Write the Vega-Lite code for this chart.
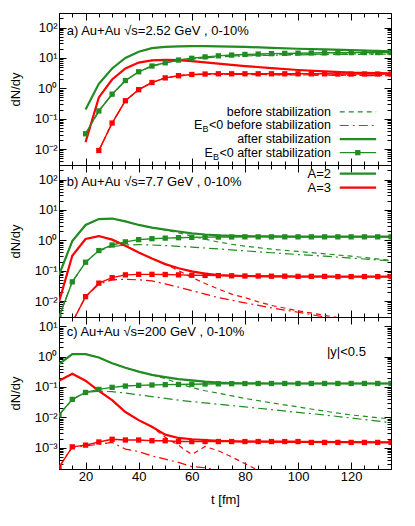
{
"$schema": "https://vega.github.io/schema/vega-lite/v6.json",
"padding": {"left": 8, "top": 6, "right": 0, "bottom": 0},
"spacing": 0,
"bounds": "flush",
"resolve": {"scale": {"x": "independent", "y": "independent"}},
"config": {
 "font": "Liberation Sans",
 "view": {"stroke": "black", "strokeWidth": 1},
 "axis": {"labelFont": "Liberation Sans", "titleFont": "Liberation Sans", "labelColor": "black", "titleColor": "black", "tickColor": "black", "labelFontSize": 13, "titleFontSize": 13, "titleFontWeight": "normal", "grid": false, "domain": false, "labelOverlap": false},
 "text": {"font": "Liberation Sans", "fontSize": 13}
},
"datasets": {
 "curves": [
  {"p":"a","A":2,"s":"af","t":20,"v":0.2},{"p":"a","A":2,"s":"af","t":25,"v":1.4},{"p":"a","A":2,"s":"af","t":30,"v":4.5},{"p":"a","A":2,"s":"af","t":35,"v":10},{"p":"a","A":2,"s":"af","t":40,"v":16},{"p":"a","A":2,"s":"af","t":45,"v":21},{"p":"a","A":2,"s":"af","t":50,"v":23},{"p":"a","A":2,"s":"af","t":55,"v":24},{"p":"a","A":2,"s":"af","t":60,"v":24.5},{"p":"a","A":2,"s":"af","t":65,"v":24.5},{"p":"a","A":2,"s":"af","t":70,"v":24},{"p":"a","A":2,"s":"af","t":80,"v":23},{"p":"a","A":2,"s":"af","t":90,"v":21.5},{"p":"a","A":2,"s":"af","t":100,"v":20},{"p":"a","A":2,"s":"af","t":110,"v":19},{"p":"a","A":2,"s":"af","t":120,"v":18},{"p":"a","A":2,"s":"af","t":135,"v":16.5},
  {"p":"a","A":3,"s":"af","t":20,"v":0.017},{"p":"a","A":3,"s":"af","t":25,"v":0.5},{"p":"a","A":3,"s":"af","t":30,"v":1.95},{"p":"a","A":3,"s":"af","t":35,"v":4.5},{"p":"a","A":3,"s":"af","t":40,"v":7},{"p":"a","A":3,"s":"af","t":45,"v":8.3},{"p":"a","A":3,"s":"af","t":50,"v":8.6},{"p":"a","A":3,"s":"af","t":55,"v":8.4},{"p":"a","A":3,"s":"af","t":60,"v":7.8},{"p":"a","A":3,"s":"af","t":70,"v":6.5},{"p":"a","A":3,"s":"af","t":80,"v":5.4},{"p":"a","A":3,"s":"af","t":90,"v":4.6},{"p":"a","A":3,"s":"af","t":100,"v":4},{"p":"a","A":3,"s":"af","t":110,"v":3.6},{"p":"a","A":3,"s":"af","t":120,"v":3.3},{"p":"a","A":3,"s":"af","t":135,"v":3.1},
  {"p":"a","A":2,"s":"bf","t":20,"v":0.032},{"p":"a","A":2,"s":"bf","t":25,"v":0.18},{"p":"a","A":2,"s":"bf","t":30,"v":0.64},{"p":"a","A":2,"s":"bf","t":35,"v":1.8},{"p":"a","A":2,"s":"bf","t":40,"v":3.5},{"p":"a","A":2,"s":"bf","t":45,"v":5.4},{"p":"a","A":2,"s":"bf","t":50,"v":6.9},{"p":"a","A":2,"s":"bf","t":55,"v":8.4},{"p":"a","A":2,"s":"bf","t":60,"v":9.4},{"p":"a","A":2,"s":"bf","t":70,"v":11},{"p":"a","A":2,"s":"bf","t":80,"v":12},{"p":"a","A":2,"s":"bf","t":90,"v":12.6},{"p":"a","A":2,"s":"bf","t":100,"v":13},{"p":"a","A":2,"s":"bf","t":110,"v":13.3},{"p":"a","A":2,"s":"bf","t":120,"v":13.5},{"p":"a","A":2,"s":"bf","t":135,"v":13.6},
  {"p":"a","A":2,"s":"ebbf","t":20,"v":0.032},{"p":"a","A":2,"s":"ebbf","t":25,"v":0.18},{"p":"a","A":2,"s":"ebbf","t":30,"v":0.64},{"p":"a","A":2,"s":"ebbf","t":35,"v":1.8},{"p":"a","A":2,"s":"ebbf","t":40,"v":3.5},{"p":"a","A":2,"s":"ebbf","t":45,"v":5.4},{"p":"a","A":2,"s":"ebbf","t":50,"v":6.9},{"p":"a","A":2,"s":"ebbf","t":55,"v":8.3},{"p":"a","A":2,"s":"ebbf","t":60,"v":9.2},{"p":"a","A":2,"s":"ebbf","t":70,"v":10.7},{"p":"a","A":2,"s":"ebbf","t":80,"v":11.6},{"p":"a","A":2,"s":"ebbf","t":90,"v":12.2},{"p":"a","A":2,"s":"ebbf","t":100,"v":12.6},{"p":"a","A":2,"s":"ebbf","t":110,"v":12.9},{"p":"a","A":2,"s":"ebbf","t":120,"v":13.1},{"p":"a","A":2,"s":"ebbf","t":135,"v":13.2},
  {"p":"a","A":3,"s":"bf","t":25,"v":0.009},{"p":"a","A":3,"s":"bf","t":30,"v":0.072},{"p":"a","A":3,"s":"bf","t":35,"v":0.39},{"p":"a","A":3,"s":"bf","t":40,"v":0.9},{"p":"a","A":3,"s":"bf","t":45,"v":1.55},{"p":"a","A":3,"s":"bf","t":50,"v":2.2},{"p":"a","A":3,"s":"bf","t":55,"v":2.6},{"p":"a","A":3,"s":"bf","t":60,"v":2.85},{"p":"a","A":3,"s":"bf","t":70,"v":2.95},{"p":"a","A":3,"s":"bf","t":80,"v":2.9},{"p":"a","A":3,"s":"bf","t":90,"v":2.85},{"p":"a","A":3,"s":"bf","t":100,"v":2.8},{"p":"a","A":3,"s":"bf","t":110,"v":2.75},{"p":"a","A":3,"s":"bf","t":120,"v":2.7},{"p":"a","A":3,"s":"bf","t":135,"v":2.65},
  {"p":"a","A":3,"s":"ebbf","t":25,"v":0.009},{"p":"a","A":3,"s":"ebbf","t":30,"v":0.072},{"p":"a","A":3,"s":"ebbf","t":35,"v":0.39},{"p":"a","A":3,"s":"ebbf","t":40,"v":0.9},{"p":"a","A":3,"s":"ebbf","t":45,"v":1.55},{"p":"a","A":3,"s":"ebbf","t":50,"v":2.2},{"p":"a","A":3,"s":"ebbf","t":55,"v":2.55},{"p":"a","A":3,"s":"ebbf","t":60,"v":2.8},{"p":"a","A":3,"s":"ebbf","t":70,"v":2.9},{"p":"a","A":3,"s":"ebbf","t":80,"v":2.85},{"p":"a","A":3,"s":"ebbf","t":90,"v":2.8},{"p":"a","A":3,"s":"ebbf","t":100,"v":2.75},{"p":"a","A":3,"s":"ebbf","t":110,"v":2.7},{"p":"a","A":3,"s":"ebbf","t":120,"v":2.65},{"p":"a","A":3,"s":"ebbf","t":135,"v":2.6},
  {"p":"a","A":2,"s":"ebaf","t":20,"v":0.032},{"p":"a","A":2,"s":"ebaf","t":25,"v":0.18},{"p":"a","A":2,"s":"ebaf","t":30,"v":0.64},{"p":"a","A":2,"s":"ebaf","t":35,"v":1.8},{"p":"a","A":2,"s":"ebaf","t":40,"v":3.5},{"p":"a","A":2,"s":"ebaf","t":45,"v":5.4},{"p":"a","A":2,"s":"ebaf","t":50,"v":6.9},{"p":"a","A":2,"s":"ebaf","t":55,"v":8.5},{"p":"a","A":2,"s":"ebaf","t":60,"v":9.7},{"p":"a","A":2,"s":"ebaf","t":65,"v":10.8},{"p":"a","A":2,"s":"ebaf","t":70,"v":11.7},{"p":"a","A":2,"s":"ebaf","t":75,"v":12.4},{"p":"a","A":2,"s":"ebaf","t":80,"v":13},{"p":"a","A":2,"s":"ebaf","t":85,"v":13.4},{"p":"a","A":2,"s":"ebaf","t":90,"v":13.8},{"p":"a","A":2,"s":"ebaf","t":95,"v":14.1},{"p":"a","A":2,"s":"ebaf","t":100,"v":14.3},{"p":"a","A":2,"s":"ebaf","t":105,"v":14.5},{"p":"a","A":2,"s":"ebaf","t":110,"v":14.7},{"p":"a","A":2,"s":"ebaf","t":115,"v":14.8},{"p":"a","A":2,"s":"ebaf","t":120,"v":14.9},{"p":"a","A":2,"s":"ebaf","t":125,"v":15},{"p":"a","A":2,"s":"ebaf","t":130,"v":15},{"p":"a","A":2,"s":"ebaf","t":135,"v":15},
  {"p":"a","A":3,"s":"ebaf","t":25,"v":0.009},{"p":"a","A":3,"s":"ebaf","t":30,"v":0.072},{"p":"a","A":3,"s":"ebaf","t":35,"v":0.39},{"p":"a","A":3,"s":"ebaf","t":40,"v":0.9},{"p":"a","A":3,"s":"ebaf","t":45,"v":1.55},{"p":"a","A":3,"s":"ebaf","t":50,"v":2.2},{"p":"a","A":3,"s":"ebaf","t":55,"v":2.6},{"p":"a","A":3,"s":"ebaf","t":60,"v":2.85},{"p":"a","A":3,"s":"ebaf","t":65,"v":2.95},{"p":"a","A":3,"s":"ebaf","t":70,"v":3},{"p":"a","A":3,"s":"ebaf","t":75,"v":3},{"p":"a","A":3,"s":"ebaf","t":80,"v":3},{"p":"a","A":3,"s":"ebaf","t":85,"v":3},{"p":"a","A":3,"s":"ebaf","t":90,"v":3},{"p":"a","A":3,"s":"ebaf","t":95,"v":3},{"p":"a","A":3,"s":"ebaf","t":100,"v":3},{"p":"a","A":3,"s":"ebaf","t":105,"v":3},{"p":"a","A":3,"s":"ebaf","t":110,"v":3},{"p":"a","A":3,"s":"ebaf","t":115,"v":2.95},{"p":"a","A":3,"s":"ebaf","t":120,"v":2.95},{"p":"a","A":3,"s":"ebaf","t":125,"v":2.95},{"p":"a","A":3,"s":"ebaf","t":130,"v":2.95},{"p":"a","A":3,"s":"ebaf","t":135,"v":2.95},

  {"p":"b","A":2,"s":"af","t":10,"v":0.072},{"p":"b","A":2,"s":"af","t":15,"v":0.95},{"p":"b","A":2,"s":"af","t":20,"v":3.2},{"p":"b","A":2,"s":"af","t":25,"v":5},{"p":"b","A":2,"s":"af","t":30,"v":5.2},{"p":"b","A":2,"s":"af","t":35,"v":4.2},{"p":"b","A":2,"s":"af","t":40,"v":3.2},{"p":"b","A":2,"s":"af","t":45,"v":2.6},{"p":"b","A":2,"s":"af","t":50,"v":2.25},{"p":"b","A":2,"s":"af","t":55,"v":1.95},{"p":"b","A":2,"s":"af","t":60,"v":1.7},{"p":"b","A":2,"s":"af","t":65,"v":1.55},{"p":"b","A":2,"s":"af","t":70,"v":1.45},{"p":"b","A":2,"s":"af","t":75,"v":1.4},{"p":"b","A":2,"s":"af","t":80,"v":1.37},{"p":"b","A":2,"s":"af","t":90,"v":1.34},{"p":"b","A":2,"s":"af","t":100,"v":1.33},{"p":"b","A":2,"s":"af","t":120,"v":1.32},{"p":"b","A":2,"s":"af","t":135,"v":1.32},
  {"p":"b","A":2,"s":"bf","t":10,"v":0.072},{"p":"b","A":2,"s":"bf","t":15,"v":0.95},{"p":"b","A":2,"s":"bf","t":20,"v":3.2},{"p":"b","A":2,"s":"bf","t":25,"v":5},{"p":"b","A":2,"s":"bf","t":30,"v":5.2},{"p":"b","A":2,"s":"bf","t":35,"v":4.2},{"p":"b","A":2,"s":"bf","t":40,"v":3.2},{"p":"b","A":2,"s":"bf","t":45,"v":2.6},{"p":"b","A":2,"s":"bf","t":50,"v":2.2},{"p":"b","A":2,"s":"bf","t":55,"v":1.75},{"p":"b","A":2,"s":"bf","t":60,"v":1.38},{"p":"b","A":2,"s":"bf","t":65,"v":1.08},{"p":"b","A":2,"s":"bf","t":70,"v":0.88},{"p":"b","A":2,"s":"bf","t":75,"v":0.74},{"p":"b","A":2,"s":"bf","t":80,"v":0.64},{"p":"b","A":2,"s":"bf","t":90,"v":0.51},{"p":"b","A":2,"s":"bf","t":100,"v":0.43},{"p":"b","A":2,"s":"bf","t":110,"v":0.36},{"p":"b","A":2,"s":"bf","t":120,"v":0.3},{"p":"b","A":2,"s":"bf","t":135,"v":0.22},
  {"p":"b","A":2,"s":"ebbf","t":10,"v":0.003},{"p":"b","A":2,"s":"ebbf","t":15,"v":0.043},{"p":"b","A":2,"s":"ebbf","t":20,"v":0.19},{"p":"b","A":2,"s":"ebbf","t":25,"v":0.46},{"p":"b","A":2,"s":"ebbf","t":30,"v":0.62},{"p":"b","A":2,"s":"ebbf","t":35,"v":0.7},{"p":"b","A":2,"s":"ebbf","t":40,"v":0.72},{"p":"b","A":2,"s":"ebbf","t":45,"v":0.7},{"p":"b","A":2,"s":"ebbf","t":50,"v":0.67},{"p":"b","A":2,"s":"ebbf","t":55,"v":0.63},{"p":"b","A":2,"s":"ebbf","t":60,"v":0.6},{"p":"b","A":2,"s":"ebbf","t":70,"v":0.52},{"p":"b","A":2,"s":"ebbf","t":80,"v":0.45},{"p":"b","A":2,"s":"ebbf","t":90,"v":0.39},{"p":"b","A":2,"s":"ebbf","t":100,"v":0.34},{"p":"b","A":2,"s":"ebbf","t":110,"v":0.3},{"p":"b","A":2,"s":"ebbf","t":120,"v":0.26},{"p":"b","A":2,"s":"ebbf","t":135,"v":0.21},
  {"p":"b","A":2,"s":"ebaf","t":10,"v":0.003},{"p":"b","A":2,"s":"ebaf","t":15,"v":0.043},{"p":"b","A":2,"s":"ebaf","t":20,"v":0.19},{"p":"b","A":2,"s":"ebaf","t":25,"v":0.46},{"p":"b","A":2,"s":"ebaf","t":30,"v":0.7},{"p":"b","A":2,"s":"ebaf","t":35,"v":0.89},{"p":"b","A":2,"s":"ebaf","t":40,"v":1.05},{"p":"b","A":2,"s":"ebaf","t":45,"v":1.13},{"p":"b","A":2,"s":"ebaf","t":50,"v":1.18},{"p":"b","A":2,"s":"ebaf","t":55,"v":1.22},{"p":"b","A":2,"s":"ebaf","t":60,"v":1.25},{"p":"b","A":2,"s":"ebaf","t":65,"v":1.27},{"p":"b","A":2,"s":"ebaf","t":70,"v":1.28},{"p":"b","A":2,"s":"ebaf","t":75,"v":1.29},{"p":"b","A":2,"s":"ebaf","t":80,"v":1.3},{"p":"b","A":2,"s":"ebaf","t":85,"v":1.3},{"p":"b","A":2,"s":"ebaf","t":90,"v":1.3},{"p":"b","A":2,"s":"ebaf","t":95,"v":1.3},{"p":"b","A":2,"s":"ebaf","t":100,"v":1.3},{"p":"b","A":2,"s":"ebaf","t":105,"v":1.3},{"p":"b","A":2,"s":"ebaf","t":110,"v":1.3},{"p":"b","A":2,"s":"ebaf","t":115,"v":1.3},{"p":"b","A":2,"s":"ebaf","t":120,"v":1.3},{"p":"b","A":2,"s":"ebaf","t":125,"v":1.3},{"p":"b","A":2,"s":"ebaf","t":130,"v":1.3},{"p":"b","A":2,"s":"ebaf","t":135,"v":1.3},
  {"p":"b","A":3,"s":"af","t":10,"v":0.0093},{"p":"b","A":3,"s":"af","t":15,"v":0.31},{"p":"b","A":3,"s":"af","t":20,"v":1.1},{"p":"b","A":3,"s":"af","t":25,"v":1.38},{"p":"b","A":3,"s":"af","t":30,"v":1.05},{"p":"b","A":3,"s":"af","t":35,"v":0.66},{"p":"b","A":3,"s":"af","t":40,"v":0.4},{"p":"b","A":3,"s":"af","t":45,"v":0.25},{"p":"b","A":3,"s":"af","t":50,"v":0.165},{"p":"b","A":3,"s":"af","t":55,"v":0.12},{"p":"b","A":3,"s":"af","t":60,"v":0.095},{"p":"b","A":3,"s":"af","t":65,"v":0.08},{"p":"b","A":3,"s":"af","t":70,"v":0.072},{"p":"b","A":3,"s":"af","t":80,"v":0.067},{"p":"b","A":3,"s":"af","t":90,"v":0.065},{"p":"b","A":3,"s":"af","t":100,"v":0.064},{"p":"b","A":3,"s":"af","t":135,"v":0.064},
  {"p":"b","A":3,"s":"bf","t":10,"v":0.0093},{"p":"b","A":3,"s":"bf","t":15,"v":0.31},{"p":"b","A":3,"s":"bf","t":20,"v":1.1},{"p":"b","A":3,"s":"bf","t":25,"v":1.38},{"p":"b","A":3,"s":"bf","t":30,"v":1.05},{"p":"b","A":3,"s":"bf","t":35,"v":0.66},{"p":"b","A":3,"s":"bf","t":40,"v":0.4},{"p":"b","A":3,"s":"bf","t":45,"v":0.25},{"p":"b","A":3,"s":"bf","t":50,"v":0.165},{"p":"b","A":3,"s":"bf","t":55,"v":0.1},{"p":"b","A":3,"s":"bf","t":60,"v":0.06},{"p":"b","A":3,"s":"bf","t":65,"v":0.038},{"p":"b","A":3,"s":"bf","t":70,"v":0.025},{"p":"b","A":3,"s":"bf","t":75,"v":0.017},{"p":"b","A":3,"s":"bf","t":80,"v":0.013},{"p":"b","A":3,"s":"bf","t":85,"v":0.0095},{"p":"b","A":3,"s":"bf","t":90,"v":0.0072},{"p":"b","A":3,"s":"bf","t":100,"v":0.0048},{"p":"b","A":3,"s":"bf","t":110,"v":0.0034},{"p":"b","A":3,"s":"bf","t":120,"v":0.0024},{"p":"b","A":3,"s":"bf","t":135,"v":0.0015},
  {"p":"b","A":3,"s":"ebbf","t":15,"v":0.002},{"p":"b","A":3,"s":"ebbf","t":20,"v":0.014},{"p":"b","A":3,"s":"ebbf","t":25,"v":0.036},{"p":"b","A":3,"s":"ebbf","t":30,"v":0.05},{"p":"b","A":3,"s":"ebbf","t":35,"v":0.052},{"p":"b","A":3,"s":"ebbf","t":40,"v":0.05},{"p":"b","A":3,"s":"ebbf","t":45,"v":0.046},{"p":"b","A":3,"s":"ebbf","t":50,"v":0.037},{"p":"b","A":3,"s":"ebbf","t":55,"v":0.029},{"p":"b","A":3,"s":"ebbf","t":60,"v":0.022},{"p":"b","A":3,"s":"ebbf","t":65,"v":0.017},{"p":"b","A":3,"s":"ebbf","t":70,"v":0.013},{"p":"b","A":3,"s":"ebbf","t":80,"v":0.0088},{"p":"b","A":3,"s":"ebbf","t":90,"v":0.006},{"p":"b","A":3,"s":"ebbf","t":100,"v":0.0043},{"p":"b","A":3,"s":"ebbf","t":110,"v":0.003},{"p":"b","A":3,"s":"ebbf","t":120,"v":0.0022},{"p":"b","A":3,"s":"ebbf","t":135,"v":0.0014},
  {"p":"b","A":3,"s":"ebaf","t":15,"v":0.002},{"p":"b","A":3,"s":"ebaf","t":20,"v":0.014},{"p":"b","A":3,"s":"ebaf","t":25,"v":0.039},{"p":"b","A":3,"s":"ebaf","t":30,"v":0.059},{"p":"b","A":3,"s":"ebaf","t":35,"v":0.073},{"p":"b","A":3,"s":"ebaf","t":40,"v":0.076},{"p":"b","A":3,"s":"ebaf","t":45,"v":0.076},{"p":"b","A":3,"s":"ebaf","t":50,"v":0.075},{"p":"b","A":3,"s":"ebaf","t":55,"v":0.073},{"p":"b","A":3,"s":"ebaf","t":60,"v":0.071},{"p":"b","A":3,"s":"ebaf","t":65,"v":0.07},{"p":"b","A":3,"s":"ebaf","t":70,"v":0.069},{"p":"b","A":3,"s":"ebaf","t":75,"v":0.068},{"p":"b","A":3,"s":"ebaf","t":80,"v":0.067},{"p":"b","A":3,"s":"ebaf","t":85,"v":0.067},{"p":"b","A":3,"s":"ebaf","t":90,"v":0.066},{"p":"b","A":3,"s":"ebaf","t":95,"v":0.066},{"p":"b","A":3,"s":"ebaf","t":100,"v":0.065},{"p":"b","A":3,"s":"ebaf","t":105,"v":0.065},{"p":"b","A":3,"s":"ebaf","t":110,"v":0.065},{"p":"b","A":3,"s":"ebaf","t":115,"v":0.064},{"p":"b","A":3,"s":"ebaf","t":120,"v":0.064},{"p":"b","A":3,"s":"ebaf","t":125,"v":0.064},{"p":"b","A":3,"s":"ebaf","t":130,"v":0.064},{"p":"b","A":3,"s":"ebaf","t":135,"v":0.064},

  {"p":"c","A":2,"s":"af","t":10,"v":0.56},{"p":"c","A":2,"s":"af","t":15,"v":1.2},{"p":"c","A":2,"s":"af","t":20,"v":1.2},{"p":"c","A":2,"s":"af","t":25,"v":0.93},{"p":"c","A":2,"s":"af","t":30,"v":0.6},{"p":"c","A":2,"s":"af","t":35,"v":0.43},{"p":"c","A":2,"s":"af","t":40,"v":0.32},{"p":"c","A":2,"s":"af","t":45,"v":0.25},{"p":"c","A":2,"s":"af","t":50,"v":0.21},{"p":"c","A":2,"s":"af","t":55,"v":0.18},{"p":"c","A":2,"s":"af","t":60,"v":0.165},{"p":"c","A":2,"s":"af","t":65,"v":0.15},{"p":"c","A":2,"s":"af","t":70,"v":0.14},{"p":"c","A":2,"s":"af","t":75,"v":0.135},{"p":"c","A":2,"s":"af","t":80,"v":0.132},{"p":"c","A":2,"s":"af","t":90,"v":0.13},{"p":"c","A":2,"s":"af","t":135,"v":0.13},
  {"p":"c","A":2,"s":"bf","t":10,"v":0.56},{"p":"c","A":2,"s":"bf","t":15,"v":1.2},{"p":"c","A":2,"s":"bf","t":20,"v":1.2},{"p":"c","A":2,"s":"bf","t":25,"v":0.93},{"p":"c","A":2,"s":"bf","t":30,"v":0.6},{"p":"c","A":2,"s":"bf","t":35,"v":0.43},{"p":"c","A":2,"s":"bf","t":40,"v":0.32},{"p":"c","A":2,"s":"bf","t":45,"v":0.25},{"p":"c","A":2,"s":"bf","t":50,"v":0.19},{"p":"c","A":2,"s":"bf","t":55,"v":0.13},{"p":"c","A":2,"s":"bf","t":60,"v":0.095},{"p":"c","A":2,"s":"bf","t":65,"v":0.075},{"p":"c","A":2,"s":"bf","t":70,"v":0.062},{"p":"c","A":2,"s":"bf","t":80,"v":0.042},{"p":"c","A":2,"s":"bf","t":90,"v":0.03},{"p":"c","A":2,"s":"bf","t":100,"v":0.022},{"p":"c","A":2,"s":"bf","t":110,"v":0.016},{"p":"c","A":2,"s":"bf","t":120,"v":0.012},{"p":"c","A":2,"s":"bf","t":135,"v":0.0088},
  {"p":"c","A":2,"s":"ebbf","t":10,"v":0.012},{"p":"c","A":2,"s":"ebbf","t":15,"v":0.039},{"p":"c","A":2,"s":"ebbf","t":20,"v":0.066},{"p":"c","A":2,"s":"ebbf","t":25,"v":0.072},{"p":"c","A":2,"s":"ebbf","t":30,"v":0.07},{"p":"c","A":2,"s":"ebbf","t":35,"v":0.063},{"p":"c","A":2,"s":"ebbf","t":40,"v":0.055},{"p":"c","A":2,"s":"ebbf","t":45,"v":0.048},{"p":"c","A":2,"s":"ebbf","t":50,"v":0.042},{"p":"c","A":2,"s":"ebbf","t":55,"v":0.037},{"p":"c","A":2,"s":"ebbf","t":60,"v":0.033},{"p":"c","A":2,"s":"ebbf","t":70,"v":0.027},{"p":"c","A":2,"s":"ebbf","t":80,"v":0.022},{"p":"c","A":2,"s":"ebbf","t":90,"v":0.018},{"p":"c","A":2,"s":"ebbf","t":100,"v":0.0145},{"p":"c","A":2,"s":"ebbf","t":110,"v":0.012},{"p":"c","A":2,"s":"ebbf","t":120,"v":0.0095},{"p":"c","A":2,"s":"ebbf","t":135,"v":0.0067},
  {"p":"c","A":2,"s":"ebaf","t":10,"v":0.012},{"p":"c","A":2,"s":"ebaf","t":15,"v":0.039},{"p":"c","A":2,"s":"ebaf","t":20,"v":0.066},{"p":"c","A":2,"s":"ebaf","t":25,"v":0.083},{"p":"c","A":2,"s":"ebaf","t":30,"v":0.097},{"p":"c","A":2,"s":"ebaf","t":35,"v":0.107},{"p":"c","A":2,"s":"ebaf","t":40,"v":0.113},{"p":"c","A":2,"s":"ebaf","t":45,"v":0.116},{"p":"c","A":2,"s":"ebaf","t":50,"v":0.119},{"p":"c","A":2,"s":"ebaf","t":55,"v":0.121},{"p":"c","A":2,"s":"ebaf","t":60,"v":0.123},{"p":"c","A":2,"s":"ebaf","t":65,"v":0.125},{"p":"c","A":2,"s":"ebaf","t":70,"v":0.127},{"p":"c","A":2,"s":"ebaf","t":75,"v":0.128},{"p":"c","A":2,"s":"ebaf","t":80,"v":0.129},{"p":"c","A":2,"s":"ebaf","t":85,"v":0.13},{"p":"c","A":2,"s":"ebaf","t":90,"v":0.13},{"p":"c","A":2,"s":"ebaf","t":95,"v":0.13},{"p":"c","A":2,"s":"ebaf","t":100,"v":0.13},{"p":"c","A":2,"s":"ebaf","t":105,"v":0.13},{"p":"c","A":2,"s":"ebaf","t":110,"v":0.13},{"p":"c","A":2,"s":"ebaf","t":115,"v":0.13},{"p":"c","A":2,"s":"ebaf","t":120,"v":0.13},{"p":"c","A":2,"s":"ebaf","t":125,"v":0.13},{"p":"c","A":2,"s":"ebaf","t":130,"v":0.13},{"p":"c","A":2,"s":"ebaf","t":135,"v":0.13},
  {"p":"c","A":3,"s":"af","t":10,"v":0.16},{"p":"c","A":3,"s":"af","t":15,"v":0.27},{"p":"c","A":3,"s":"af","t":20,"v":0.16},{"p":"c","A":3,"s":"af","t":25,"v":0.074},{"p":"c","A":3,"s":"af","t":30,"v":0.037},{"p":"c","A":3,"s":"af","t":35,"v":0.015},{"p":"c","A":3,"s":"af","t":40,"v":0.0081},{"p":"c","A":3,"s":"af","t":45,"v":0.0049},{"p":"c","A":3,"s":"af","t":50,"v":0.0027},{"p":"c","A":3,"s":"af","t":55,"v":0.0021},{"p":"c","A":3,"s":"af","t":60,"v":0.0019},{"p":"c","A":3,"s":"af","t":65,"v":0.0018},{"p":"c","A":3,"s":"af","t":70,"v":0.0017},{"p":"c","A":3,"s":"af","t":80,"v":0.0016},{"p":"c","A":3,"s":"af","t":135,"v":0.0015},
  {"p":"c","A":3,"s":"bf","t":10,"v":0.16},{"p":"c","A":3,"s":"bf","t":15,"v":0.27},{"p":"c","A":3,"s":"bf","t":20,"v":0.16},{"p":"c","A":3,"s":"bf","t":25,"v":0.074},{"p":"c","A":3,"s":"bf","t":30,"v":0.037},{"p":"c","A":3,"s":"bf","t":35,"v":0.015},{"p":"c","A":3,"s":"bf","t":40,"v":0.0081},{"p":"c","A":3,"s":"bf","t":45,"v":0.0049},{"p":"c","A":3,"s":"bf","t":50,"v":0.0022},{"p":"c","A":3,"s":"bf","t":55,"v":0.0012},{"p":"c","A":3,"s":"bf","t":60,"v":0.0006},{"p":"c","A":3,"s":"bf","t":65,"v":0.0011},{"p":"c","A":3,"s":"bf","t":70,"v":0.0008},{"p":"c","A":3,"s":"bf","t":75,"v":0.0005},{"p":"c","A":3,"s":"bf","t":80,"v":0.0003},{"p":"c","A":3,"s":"bf","t":85,"v":0.00018},
  {"p":"c","A":3,"s":"ebbf","t":10,"v":0.00023},{"p":"c","A":3,"s":"ebbf","t":15,"v":0.00105},{"p":"c","A":3,"s":"ebbf","t":20,"v":0.00115},{"p":"c","A":3,"s":"ebbf","t":25,"v":0.0013},{"p":"c","A":3,"s":"ebbf","t":30,"v":0.0015},{"p":"c","A":3,"s":"ebbf","t":35,"v":0.0009},{"p":"c","A":3,"s":"ebbf","t":40,"v":0.00075},{"p":"c","A":3,"s":"ebbf","t":45,"v":0.00054},{"p":"c","A":3,"s":"ebbf","t":50,"v":0.00042},{"p":"c","A":3,"s":"ebbf","t":55,"v":0.00033},{"p":"c","A":3,"s":"ebbf","t":60,"v":0.00024},{"p":"c","A":3,"s":"ebbf","t":65,"v":0.00022},{"p":"c","A":3,"s":"ebbf","t":70,"v":0.00018},
  {"p":"c","A":3,"s":"ebaf","t":10,"v":0.00023},{"p":"c","A":3,"s":"ebaf","t":15,"v":0.00107},{"p":"c","A":3,"s":"ebaf","t":20,"v":0.00122},{"p":"c","A":3,"s":"ebaf","t":25,"v":0.00155},{"p":"c","A":3,"s":"ebaf","t":30,"v":0.0019},{"p":"c","A":3,"s":"ebaf","t":35,"v":0.0018},{"p":"c","A":3,"s":"ebaf","t":40,"v":0.0018},{"p":"c","A":3,"s":"ebaf","t":45,"v":0.0017},{"p":"c","A":3,"s":"ebaf","t":50,"v":0.0017},{"p":"c","A":3,"s":"ebaf","t":55,"v":0.0016},{"p":"c","A":3,"s":"ebaf","t":60,"v":0.0016},{"p":"c","A":3,"s":"ebaf","t":65,"v":0.0016},{"p":"c","A":3,"s":"ebaf","t":70,"v":0.0016},{"p":"c","A":3,"s":"ebaf","t":75,"v":0.0016},{"p":"c","A":3,"s":"ebaf","t":80,"v":0.0016},{"p":"c","A":3,"s":"ebaf","t":85,"v":0.0016},{"p":"c","A":3,"s":"ebaf","t":90,"v":0.0016},{"p":"c","A":3,"s":"ebaf","t":95,"v":0.0016},{"p":"c","A":3,"s":"ebaf","t":100,"v":0.0016},{"p":"c","A":3,"s":"ebaf","t":105,"v":0.0015},{"p":"c","A":3,"s":"ebaf","t":110,"v":0.0015},{"p":"c","A":3,"s":"ebaf","t":115,"v":0.0015},{"p":"c","A":3,"s":"ebaf","t":120,"v":0.0015},{"p":"c","A":3,"s":"ebaf","t":125,"v":0.0015},{"p":"c","A":3,"s":"ebaf","t":130,"v":0.0015},{"p":"c","A":3,"s":"ebaf","t":135,"v":0.0015}
 ],
 "keys": [
  {"p":"a","s":"bf","A":2,"t":115.7,"t2":129.4,"v":0.167},
  {"p":"a","s":"ebbf","A":2,"t":115.7,"t2":129.4,"v":0.0598},
  {"p":"a","s":"af","A":2,"t":115.7,"t2":129.4,"v":0.0214},
  {"p":"a","s":"ebaf","A":2,"t":115.7,"t2":129.4,"tm":122.5,"v":0.00766},
  {"p":"b","s":"af","A":2,"t":115.7,"t2":129.4,"v":155},
  {"p":"b","s":"af","A":3,"t":115.7,"t2":129.4,"v":54}
 ],
 "texts": [
  {"p":"a","k":"L","t":12.9,"v":74,"label":"a) Au+Au √s=2.52 GeV , 0-10%"},
  {"p":"a","k":"R","t":112.4,"v":0.167,"label":"before stabilization"},
  {"p":"a","k":"R","t":112.4,"v":0.0598,"label":"<0 before stabilization"},
  {"p":"a","k":"R","t":64.0,"v":0.0598,"label":"E"},
  {"p":"a","k":"S","t":66.3,"v":0.0598,"label":"B"},
  {"p":"a","k":"R","t":112.4,"v":0.0214,"label":"after stabilization"},
  {"p":"a","k":"R","t":112.4,"v":0.00766,"label":"<0 after stabilization"},
  {"p":"a","k":"R","t":67.9,"v":0.00766,"label":"E"},
  {"p":"a","k":"S","t":70.2,"v":0.00766,"label":"B"},
  {"p":"b","k":"L","t":12.9,"v":81,"label":"b) Au+Au √s=7.7 GeV , 0-10%"},
  {"p":"b","k":"R","t":112.4,"v":155,"label":"A=2"},
  {"p":"b","k":"R","t":112.4,"v":54,"label":"A=3"},
  {"p":"c","k":"L","t":12.9,"v":6.2,"label":"c) Au+Au √s=200 GeV , 0-10%"},
  {"p":"c","k":"L","t":110.9,"v":1.38,"label":"|y|<0.5"}
 ]
},
"vconcat": [
 {
  "width": 332, "height": 152,
  "resolve": {"scale": {"x": "independent", "y": "independent"}},
  "layer": [
   {
    "encoding": {
     "x": {"field": "t", "type": "quantitative", "scale": {"domain": [10, 135], "nice": false, "zero": false},
       "axis": {"orient": "bottom", "labels": false, "title": null, "values": [10,15,20,25,30,35,40,45,50,55,60,65,70,75,80,85,90,95,100,105,110,115,120,125,130,135],
         "tickSize": {"condition": {"test": "datum.value % 20 == 0", "value": -7}, "value": -4}}},
     "y": {"field": "v", "type": "quantitative", "scale": {"type": "log", "domain": [0.003, 300], "nice": false},
       "axis": {"title": "dN/dy", "titlePadding": 12, "labelPadding": 9,
         "values": [0.003,0.004,0.005,0.006,0.007,0.008,0.009,0.01,0.02,0.03,0.04,0.05,0.06,0.07,0.08,0.09,0.1,0.2,0.3,0.4,0.5,0.6,0.7,0.8,0.9,1,2,3,4,5,6,7,8,9,10,20,30,40,50,60,70,80,90,100,200,300],
         "labelExpr": "abs(log(datum.value)/LN10-round(log(datum.value)/LN10))<0.01 ? '10'+['⁻⁴','⁻³','⁻²','⁻¹','⁰','¹','²','³'][round(log(datum.value)/LN10)+4] : ''",
         "tickSize": {"condition": {"test": "abs(log(datum.value)/LN10-round(log(datum.value)/LN10))<0.01", "value": -7}, "value": -4}}},
     "color": {"field": "A", "type": "nominal", "scale": {"domain": [2, 3], "range": ["#228b22", "#ff0000"]}, "legend": null}
    },
    "layer": [
     {"data": {"name": "curves"}, "transform": [{"filter": "datum.p=='a' && datum.s=='bf'"}], "mark": {"type": "line", "strokeDash": [5, 4], "strokeWidth": 1.2, "clip": true}},
     {"data": {"name": "curves"}, "transform": [{"filter": "datum.p=='a' && datum.s=='ebbf'"}], "mark": {"type": "line", "strokeDash": [9, 4, 2, 4], "strokeWidth": 1.2, "clip": true}},
     {"data": {"name": "curves"}, "transform": [{"filter": "datum.p=='a' && datum.s=='af'"}], "mark": {"type": "line", "strokeWidth": 2.2, "clip": true}},
     {"data": {"name": "curves"}, "transform": [{"filter": "datum.p=='a' && datum.s=='ebaf'"}], "mark": {"type": "line", "strokeWidth": 1.4, "clip": true}},
     {"data": {"name": "curves"}, "transform": [{"filter": "datum.p=='a' && datum.s=='ebaf'"}], "mark": {"type": "point", "shape": "square", "filled": true, "opacity": 1, "size": 28, "clip": true}},
     {"data": {"name": "keys"}, "transform": [{"filter": "datum.p=='a' && datum.s=='bf'"}], "mark": {"type": "rule", "strokeDash": [5, 4], "strokeWidth": 1.2}, "encoding": {"x2": {"field": "t2"}}},
     {"data": {"name": "keys"}, "transform": [{"filter": "datum.p=='a' && datum.s=='ebbf'"}], "mark": {"type": "rule", "strokeDash": [9, 4, 2, 4], "strokeWidth": 1.2}, "encoding": {"x2": {"field": "t2"}}},
     {"data": {"name": "keys"}, "transform": [{"filter": "datum.p=='a' && datum.s=='af'"}], "mark": {"type": "rule", "strokeWidth": 2.2}, "encoding": {"x2": {"field": "t2"}}},
     {"data": {"name": "keys"}, "transform": [{"filter": "datum.p=='a' && datum.s=='ebaf'"}], "mark": {"type": "rule", "strokeWidth": 1.4}, "encoding": {"x2": {"field": "t2"}}},
     {"data": {"name": "keys"}, "transform": [{"filter": "datum.p=='a' && datum.s=='ebaf'"}], "mark": {"type": "point", "shape": "square", "filled": true, "opacity": 1, "size": 28}, "encoding": {"x": {"field": "tm", "type": "quantitative"}}},
     {"data": {"name": "texts"}, "transform": [{"filter": "datum.p=='a' && datum.k=='L'"}], "mark": {"type": "text", "align": "left", "baseline": "middle", "fontSize": 13}, "encoding": {"text": {"field": "label"}, "color": {"value": "black"}}},
     {"data": {"name": "texts"}, "transform": [{"filter": "datum.p=='a' && datum.k=='R'"}], "mark": {"type": "text", "align": "right", "baseline": "middle", "fontSize": 12.5}, "encoding": {"text": {"field": "label"}, "color": {"value": "black"}}},
     {"data": {"name": "texts"}, "transform": [{"filter": "datum.p=='a' && datum.k=='S'"}], "mark": {"type": "text", "align": "right", "baseline": "middle", "fontSize": 9, "dy": 4}, "encoding": {"text": {"field": "label"}, "color": {"value": "black"}}}
    ]
   },
   {
    "data": {"name": "curves"}, "transform": [{"filter": "datum.p=='a'"}],
    "mark": {"type": "point", "opacity": 0},
    "encoding": {
     "x": {"field": "t", "type": "quantitative", "scale": {"domain": [10, 135], "nice": false, "zero": false},
       "axis": {"orient": "top", "labels": false, "title": null, "values": [10,15,20,25,30,35,40,45,50,55,60,65,70,75,80,85,90,95,100,105,110,115,120,125,130,135],
         "tickSize": {"condition": {"test": "datum.value % 20 == 0", "value": -7}, "value": -4}}},
     "y": {"field": "v", "type": "quantitative", "scale": {"type": "log", "domain": [0.003, 300], "nice": false},
       "axis": {"orient": "right", "labels": false, "title": null,
         "values": [0.003,0.004,0.005,0.006,0.007,0.008,0.009,0.01,0.02,0.03,0.04,0.05,0.06,0.07,0.08,0.09,0.1,0.2,0.3,0.4,0.5,0.6,0.7,0.8,0.9,1,2,3,4,5,6,7,8,9,10,20,30,40,50,60,70,80,90,100,200,300],
         "tickSize": {"condition": {"test": "abs(log(datum.value)/LN10-round(log(datum.value)/LN10))<0.01", "value": -7}, "value": -4}}}
    }
   }
  ]
 },
 {
  "width": 332, "height": 152,
  "resolve": {"scale": {"x": "independent", "y": "independent"}},
  "layer": [
   {
    "encoding": {
     "x": {"field": "t", "type": "quantitative", "scale": {"domain": [10, 135], "nice": false, "zero": false},
       "axis": {"orient": "bottom", "labels": false, "title": null, "values": [10,15,20,25,30,35,40,45,50,55,60,65,70,75,80,85,90,95,100,105,110,115,120,125,130,135],
         "tickSize": {"condition": {"test": "datum.value % 20 == 0", "value": -7}, "value": -4}}},
     "y": {"field": "v", "type": "quantitative", "scale": {"type": "log", "domain": [0.003, 300], "nice": false},
       "axis": {"title": "dN/dy", "titlePadding": 12, "labelPadding": 9,
         "values": [0.003,0.004,0.005,0.006,0.007,0.008,0.009,0.01,0.02,0.03,0.04,0.05,0.06,0.07,0.08,0.09,0.1,0.2,0.3,0.4,0.5,0.6,0.7,0.8,0.9,1,2,3,4,5,6,7,8,9,10,20,30,40,50,60,70,80,90,100,200,300],
         "labelExpr": "abs(log(datum.value)/LN10-round(log(datum.value)/LN10))<0.01 ? '10'+['⁻⁴','⁻³','⁻²','⁻¹','⁰','¹','²','³'][round(log(datum.value)/LN10)+4] : ''",
         "tickSize": {"condition": {"test": "abs(log(datum.value)/LN10-round(log(datum.value)/LN10))<0.01", "value": -7}, "value": -4}}},
     "color": {"field": "A", "type": "nominal", "scale": {"domain": [2, 3], "range": ["#228b22", "#ff0000"]}, "legend": null}
    },
    "layer": [
     {"data": {"name": "curves"}, "transform": [{"filter": "datum.p=='b' && datum.s=='bf'"}], "mark": {"type": "line", "strokeDash": [5, 4], "strokeWidth": 1.2, "clip": true}},
     {"data": {"name": "curves"}, "transform": [{"filter": "datum.p=='b' && datum.s=='ebbf'"}], "mark": {"type": "line", "strokeDash": [9, 4, 2, 4], "strokeWidth": 1.2, "clip": true}},
     {"data": {"name": "curves"}, "transform": [{"filter": "datum.p=='b' && datum.s=='af'"}], "mark": {"type": "line", "strokeWidth": 2.2, "clip": true}},
     {"data": {"name": "curves"}, "transform": [{"filter": "datum.p=='b' && datum.s=='ebaf'"}], "mark": {"type": "line", "strokeWidth": 1.4, "clip": true}},
     {"data": {"name": "curves"}, "transform": [{"filter": "datum.p=='b' && datum.s=='ebaf'"}], "mark": {"type": "point", "shape": "square", "filled": true, "opacity": 1, "size": 28, "clip": true}},
     {"data": {"name": "keys"}, "transform": [{"filter": "datum.p=='b'"}], "mark": {"type": "rule", "strokeWidth": 2.2}, "encoding": {"x2": {"field": "t2"}}},
     {"data": {"name": "texts"}, "transform": [{"filter": "datum.p=='b' && datum.k=='L'"}], "mark": {"type": "text", "align": "left", "baseline": "middle", "fontSize": 13}, "encoding": {"text": {"field": "label"}, "color": {"value": "black"}}},
     {"data": {"name": "texts"}, "transform": [{"filter": "datum.p=='b' && datum.k=='R'"}], "mark": {"type": "text", "align": "right", "baseline": "middle", "fontSize": 13}, "encoding": {"text": {"field": "label"}, "color": {"value": "black"}}}
    ]
   },
   {
    "data": {"name": "curves"}, "transform": [{"filter": "datum.p=='b'"}],
    "mark": {"type": "point", "opacity": 0},
    "encoding": {
     "x": {"field": "t", "type": "quantitative", "scale": {"domain": [10, 135], "nice": false, "zero": false},
       "axis": {"orient": "top", "labels": false, "title": null, "values": [10,15,20,25,30,35,40,45,50,55,60,65,70,75,80,85,90,95,100,105,110,115,120,125,130,135],
         "tickSize": {"condition": {"test": "datum.value % 20 == 0", "value": -7}, "value": -4}}},
     "y": {"field": "v", "type": "quantitative", "scale": {"type": "log", "domain": [0.003, 300], "nice": false},
       "axis": {"orient": "right", "labels": false, "title": null,
         "values": [0.003,0.004,0.005,0.006,0.007,0.008,0.009,0.01,0.02,0.03,0.04,0.05,0.06,0.07,0.08,0.09,0.1,0.2,0.3,0.4,0.5,0.6,0.7,0.8,0.9,1,2,3,4,5,6,7,8,9,10,20,30,40,50,60,70,80,90,100,200,300],
         "tickSize": {"condition": {"test": "abs(log(datum.value)/LN10-round(log(datum.value)/LN10))<0.01", "value": -7}, "value": -4}}}
    }
   }
  ]
 },
 {
  "width": 332, "height": 152,
  "resolve": {"scale": {"x": "independent", "y": "independent"}},
  "layer": [
   {
    "encoding": {
     "x": {"field": "t", "type": "quantitative", "scale": {"domain": [10, 135], "nice": false, "zero": false},
       "axis": {"orient": "bottom", "title": "t [fm]", "titlePadding": 7, "labelPadding": 8, "values": [10,15,20,25,30,35,40,45,50,55,60,65,70,75,80,85,90,95,100,105,110,115,120,125,130,135],
         "labelExpr": "datum.value % 20 == 0 ? datum.label : ''",
         "tickSize": {"condition": {"test": "datum.value % 20 == 0", "value": -7}, "value": -4}}},
     "y": {"field": "v", "type": "quantitative", "scale": {"type": "log", "domain": [0.0002, 20], "nice": false},
       "axis": {"title": "dN/dy", "titlePadding": 12, "labelPadding": 9,
         "values": [0.0002,0.0003,0.0004,0.0005,0.0006,0.0007,0.0008,0.0009,0.001,0.002,0.003,0.004,0.005,0.006,0.007,0.008,0.009,0.01,0.02,0.03,0.04,0.05,0.06,0.07,0.08,0.09,0.1,0.2,0.3,0.4,0.5,0.6,0.7,0.8,0.9,1,2,3,4,5,6,7,8,9,10,20],
         "labelExpr": "abs(log(datum.value)/LN10-round(log(datum.value)/LN10))<0.01 ? '10'+['⁻⁴','⁻³','⁻²','⁻¹','⁰','¹','²','³'][round(log(datum.value)/LN10)+4] : ''",
         "tickSize": {"condition": {"test": "abs(log(datum.value)/LN10-round(log(datum.value)/LN10))<0.01", "value": -7}, "value": -4}}},
     "color": {"field": "A", "type": "nominal", "scale": {"domain": [2, 3], "range": ["#228b22", "#ff0000"]}, "legend": null}
    },
    "layer": [
     {"data": {"name": "curves"}, "transform": [{"filter": "datum.p=='c' && datum.s=='bf'"}], "mark": {"type": "line", "strokeDash": [5, 4], "strokeWidth": 1.2, "clip": true}},
     {"data": {"name": "curves"}, "transform": [{"filter": "datum.p=='c' && datum.s=='ebbf'"}], "mark": {"type": "line", "strokeDash": [9, 4, 2, 4], "strokeWidth": 1.2, "clip": true}},
     {"data": {"name": "curves"}, "transform": [{"filter": "datum.p=='c' && datum.s=='af'"}], "mark": {"type": "line", "strokeWidth": 2.2, "clip": true}},
     {"data": {"name": "curves"}, "transform": [{"filter": "datum.p=='c' && datum.s=='ebaf'"}], "mark": {"type": "line", "strokeWidth": 1.4, "clip": true}},
     {"data": {"name": "curves"}, "transform": [{"filter": "datum.p=='c' && datum.s=='ebaf'"}], "mark": {"type": "point", "shape": "square", "filled": true, "opacity": 1, "size": 28, "clip": true}},
     {"data": {"name": "texts"}, "transform": [{"filter": "datum.p=='c' && datum.k=='L'"}], "mark": {"type": "text", "align": "left", "baseline": "middle", "fontSize": 13}, "encoding": {"text": {"field": "label"}, "color": {"value": "black"}}}
    ]
   },
   {
    "data": {"name": "curves"}, "transform": [{"filter": "datum.p=='c'"}],
    "mark": {"type": "point", "opacity": 0},
    "encoding": {
     "x": {"field": "t", "type": "quantitative", "scale": {"domain": [10, 135], "nice": false, "zero": false},
       "axis": {"orient": "top", "labels": false, "title": null, "values": [10,15,20,25,30,35,40,45,50,55,60,65,70,75,80,85,90,95,100,105,110,115,120,125,130,135],
         "tickSize": {"condition": {"test": "datum.value % 20 == 0", "value": -7}, "value": -4}}},
     "y": {"field": "v", "type": "quantitative", "scale": {"type": "log", "domain": [0.0002, 20], "nice": false},
       "axis": {"orient": "right", "labels": false, "title": null,
         "values": [0.0002,0.0003,0.0004,0.0005,0.0006,0.0007,0.0008,0.0009,0.001,0.002,0.003,0.004,0.005,0.006,0.007,0.008,0.009,0.01,0.02,0.03,0.04,0.05,0.06,0.07,0.08,0.09,0.1,0.2,0.3,0.4,0.5,0.6,0.7,0.8,0.9,1,2,3,4,5,6,7,8,9,10,20],
         "tickSize": {"condition": {"test": "abs(log(datum.value)/LN10-round(log(datum.value)/LN10))<0.01", "value": -7}, "value": -4}}}
    }
   }
  ]
 }
]
}
